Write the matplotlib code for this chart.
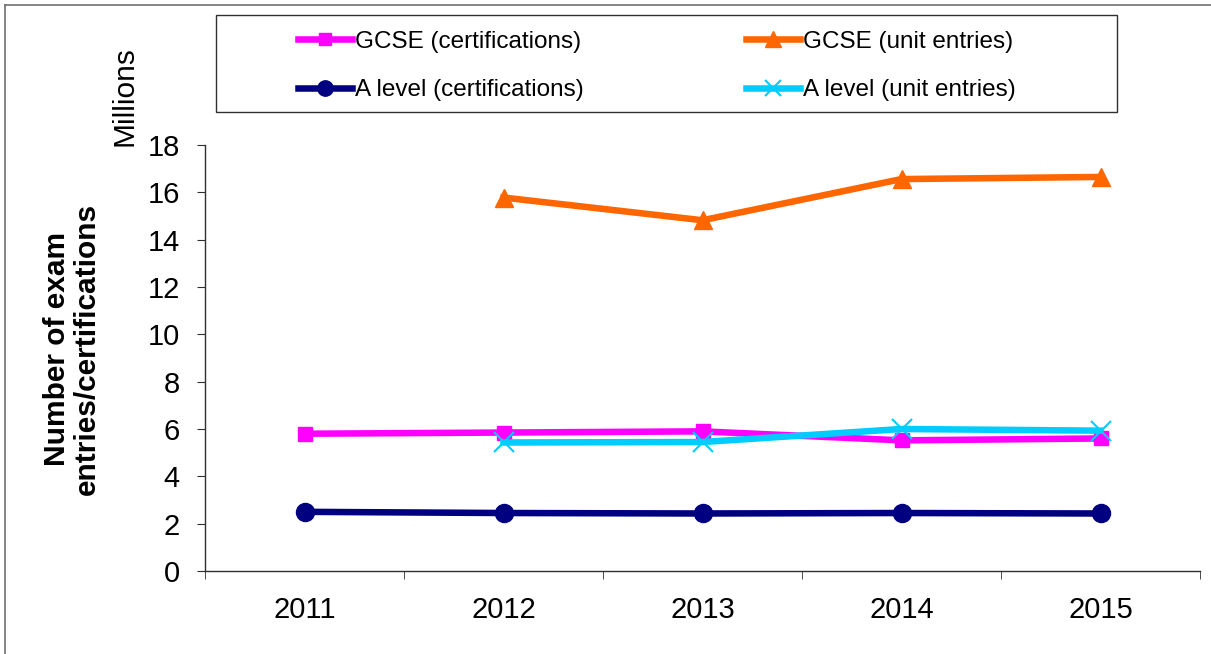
import matplotlib
matplotlib.use("Agg")
import matplotlib.pyplot as plt
from matplotlib.lines import Line2D
from matplotlib.patches import Rectangle

plt.rcParams['font.family'] = ['Liberation Sans', 'DejaVu Sans']

years = ['2011', '2012', '2013', '2014', '2015']
gcse_cert = [5.8, 5.85, 5.9, 5.52, 5.6]
gcse_unit = [None, 15.78, 14.82, 16.56, 16.65]
alevel_cert = [2.5, 2.45, 2.43, 2.45, 2.43]
alevel_unit = [None, 5.43, 5.45, 6.0, 5.93]

W, H = 1211, 654
fig = plt.figure(figsize=(W / 100, H / 100), dpi=100)
ax = fig.add_axes([205 / W, (H - 571) / H, 995 / W, 426 / H])

x = list(range(len(years)))


def pts(vals):
    xs = [i for i, v in zip(x, vals) if v is not None]
    ys = [v for v in vals if v is not None]
    return xs, ys


lw = 4.7
l1, = ax.plot(*pts(gcse_cert), color='#FF00FF', lw=lw, marker='s', ms=10,
              label='GCSE (certifications)')
l2, = ax.plot(*pts(gcse_unit), color='#FF6600', lw=lw, marker='^', ms=13,
              label='GCSE (unit entries)')
l3, = ax.plot(*pts(alevel_cert), color='#000080', lw=lw, marker='o', ms=13,
              label='A level (certifications)')
l4, = ax.plot(*pts(alevel_unit), color='#00CCFF', lw=lw, marker='x', ms=14,
              mew=1.5, label='A level (unit entries)')

ax.set_xlim(-0.5, 4.5)
ax.set_ylim(0, 18)
ax.set_yticks(range(0, 19, 2))
ax.set_xticks(x)
ax.set_xticklabels(years)
ax.set_xticks([i - 0.5 for i in range(6)], minor=True)
ax.tick_params(axis='x', which='major', length=0, pad=18, labelsize=21)
ax.tick_params(axis='x', which='minor', length=6, direction='out', color='#303030')
ax.tick_params(axis='y', length=6, direction='out', pad=12, labelsize=21, color='#303030')
for s in ['top', 'right']:
    ax.spines[s].set_visible(False)
for s in ['left', 'bottom']:
    ax.spines[s].set_color('#303030')
    ax.spines[s].set_linewidth(1.0)

fig.text(72 / W, 1 - 349 / H, 'Number of exam\nentries/certifications',
         rotation=90, ha='center', va='center', fontsize=21.5, fontweight='bold',
         multialignment='center', linespacing=1.1)
fig.text(125 / W, 1 - 96 / H, 'Millions', rotation=90, ha='center', va='center',
         fontsize=21.5)

# legend frame and figure border
fig.add_artist(Rectangle((216 / W, 1 - 112 / H), (1117 - 216) / W, 97 / H,
                         transform=fig.transFigure, fill=False, ec='#303030', lw=1.0))
fig.add_artist(Line2D([5 / W, 5 / W], [0, 1 - 5 / H], transform=fig.transFigure,
                      color='#707070', lw=1.2))
fig.add_artist(Line2D([5 / W, 1], [1 - 5 / H, 1 - 5 / H], transform=fig.transFigure,
                      color='#707070', lw=1.2))

leg = fig.legend([l1, l3, l2, l4],
                 [l1.get_label(), l3.get_label(), l2.get_label(), l4.get_label()],
                 ncol=2, loc='center', bbox_to_anchor=(657 / W, 1 - 66 / H),
                 frameon=False, fontsize=17.5, handlelength=2.2, handletextpad=0.12,
                 columnspacing=6.7, labelspacing=1.1, borderpad=0, markerscale=0.85)

fig.savefig('out.png', dpi=100)
